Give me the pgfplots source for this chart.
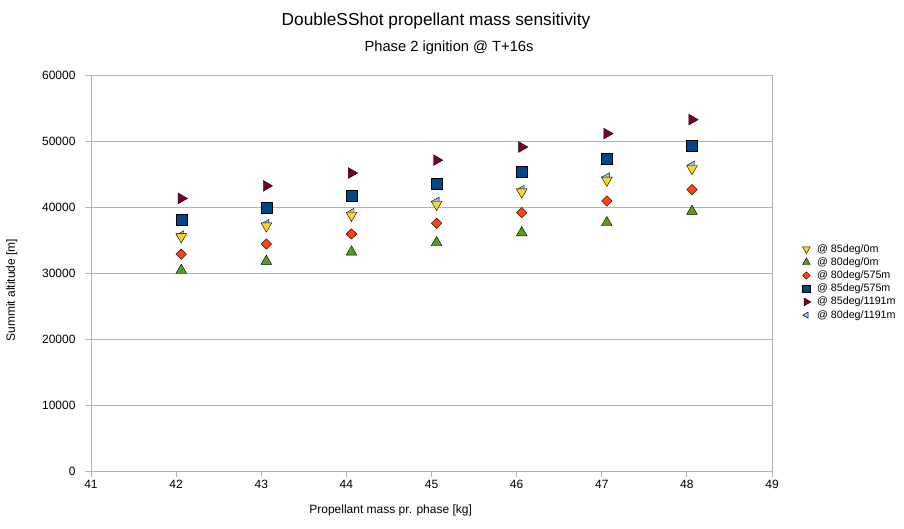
\documentclass[border=0pt]{standalone}
\usepackage{fontspec}
\setmainfont{Liberation Sans}
\usepackage{pgfplots}
\pgfplotsset{compat=1.18}
\definecolor{cyel}{HTML}{FFD320}
\definecolor{cgrn}{HTML}{579D1C}
\definecolor{corg}{HTML}{FF420E}
\definecolor{cblu}{HTML}{004586}
\definecolor{cred}{HTML}{7E0021}
\definecolor{clbl}{HTML}{83CAFF}
\definecolor{cgrid}{HTML}{B3B3B3}
\begin{document}
\begin{tikzpicture}[x=1pt,y=1pt]
\path[use as bounding box] (0,0) rectangle (904,528);
\node[font=\fontsize{17.3}{20}\selectfont] at (436,507) {DoubleSShot propellant mass sensitivity};
\node[font=\fontsize{14.7}{17}\selectfont] at (449,480) {Phase 2 ignition @ T+16s};
\begin{axis}[
  at={(91pt,57pt)}, anchor=south west,
  scale only axis, width=681pt, height=396pt,
  xmin=41, xmax=49, ymin=0, ymax=60000,
  xtick={41,...,49}, ytick={0,10000,...,60000},
  scaled y ticks=false,
  /pgf/number format/assume math mode=true,
  yticklabel={\pgfmathprintnumber[fixed,1000 sep={}]{\tick}},
  ticklabel style={font=\fontsize{12}{14}\selectfont},
  yticklabel style={xshift=-6pt},
  axis line style={cgrid, line width=0.8pt},
  tick style={cgrid, line width=0.8pt},
  tick align=outside, major tick length=6pt,
  xtick pos=bottom, ytick pos=left,
  ymajorgrids, grid style={cgrid, line width=0.8pt},
  xlabel={Propellant mass pr. phase [kg]},
  ylabel={Summit altitude [m]},
  label style={font=\fontsize{12}{14}\selectfont},
  xlabel style={at={(0.44,0)}, anchor=north, yshift=-30pt},
  ylabel style={at={(0,0.457)}, anchor=south, yshift=70pt},
  legend style={draw=none, fill=none, at={(1.0444,0.477)}, anchor=west,
    font=\fontsize{10.7}{12}\selectfont, row sep=2.2pt, inner sep=0pt,
    nodes={inner sep=0.5pt, text height=8pt, text depth=2pt}},
  legend cell align=left,
  legend image code/.code={\draw[#1, /tikz/every mark/.append style={scale=0.72}] plot coordinates {(0.2cm,0cm)};
    \path (0.2cm,0cm) ++(10pt,0pt);},
  only marks,
  every axis plot/.append style={mark options={draw=black, line width=0.5pt}},
]
% 80deg/1191m (left triangle) drawn first, beneath
\addplot[forget plot, mark=triangle*, mark size=5pt, mark options={fill=clbl, rotate=90}] coordinates {
 (42.06,35750) (43.06,37450) (44.06,39150) (45.06,40850) (46.06,42640) (47.06,44540) (48.06,46320)};
\addplot[mark=triangle*, mark size=6.2pt, mark options={fill=cyel, rotate=180}] coordinates {
 (42.06,35500) (43.06,37120) (44.06,38740) (45.06,40400) (46.06,42270) (47.06,44050) (48.06,45820)};
\addlegendentry{@ 85deg/0m}
\addplot[mark=triangle*, mark size=6.2pt, mark options={fill=cgrn}] coordinates {
 (42.06,30400) (43.06,31770) (44.06,33180) (45.06,34600) (46.06,36100) (47.06,37630) (48.06,39350)};
\addlegendentry{@ 80deg/0m}
\addplot[mark=diamond*, mark size=5.2pt, mark options={fill=corg, xscale=1.35}] coordinates {
 (42.06,32850) (43.06,34390) (44.06,35910) (45.06,37530) (46.06,39150) (47.06,40910) (48.06,42640)};
\addlegendentry{@ 80deg/575m}
\addplot[mark=square*, mark size=5.5pt, mark options={fill=cblu}] coordinates {
 (42.06,38140) (43.06,39820) (44.06,41700) (45.06,43500) (46.06,45410) (47.06,47330) (48.06,49240)};
\addlegendentry{@ 85deg/575m}
\addplot[mark=triangle*, mark size=6.2pt, mark options={fill=cred, rotate=-90}] coordinates {
 (42.06,41300) (43.06,43200) (44.06,45150) (45.06,47100) (46.06,49090) (47.06,51120) (48.06,53240)};
\addlegendentry{@ 85deg/1191m}
\addlegendimage{only marks, mark=triangle*, mark size=5pt, mark options={draw=black, line width=0.5pt, fill=clbl, rotate=90}}
\addlegendentry{@ 80deg/1191m}
\end{axis}
\end{tikzpicture}
\end{document}
